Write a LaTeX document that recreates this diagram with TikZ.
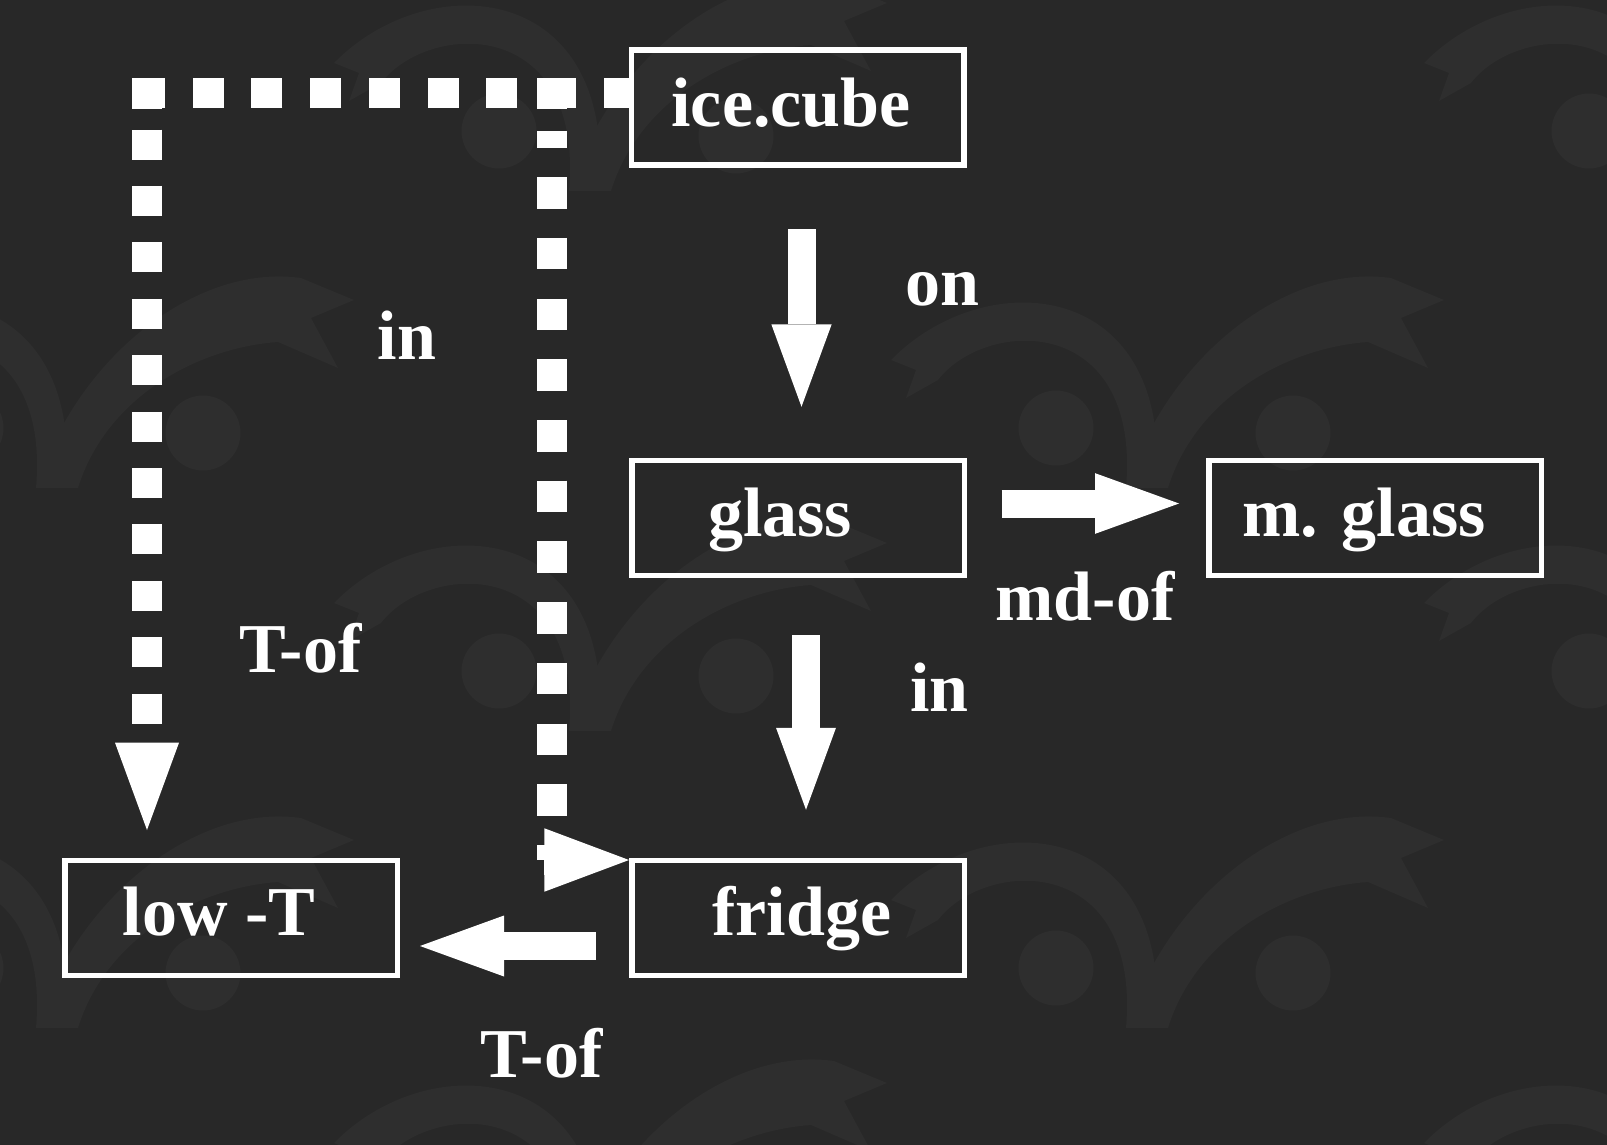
\documentclass[tikz,border=0pt]{standalone}
\usepackage{fontspec}
\setmainfont{Liberation Serif}
\usetikzlibrary{arrows.meta}
\definecolor{bgc}{HTML}{282828}
\definecolor{motc}{HTML}{2E2E2E}
\newcommand\bgmotif[2]{%
  \begin{scope}[shift={(#1,#2)}]
    \fill[motc] (0,0) circle[radius=37.5pt];
    \fill[motc] (237,5) circle[radius=37.5pt];
    \fill[motc] (100,60) .. controls (118,-150) and (-70,-165) .. (-165,-68)
      -- (-140,-58) -- (-150,-30) -- (-118,-48)
      .. controls (-70,-110) and (85,-115) .. (70,60) -- cycle;
    \fill[motc] (70,60) .. controls (110,-70) and (230,-165) .. (335,-150)
      -- (388,-128) -- (345,-110) -- (372,-60) -- (312,-86)
      .. controls (230,-80) and (140,-30) .. (112,60) -- cycle;
  \end{scope}}
\begin{document}
\begin{tikzpicture}[x=1pt,y=-1pt,
  box/.style={draw=white, line width=5.5pt, minimum width=332.5pt, minimum height=115pt, inner sep=0pt},
  txt/.style={text=white, font=\fontsize{70}{84}\selectfont\bfseries, inner sep=0pt, anchor=base},
  blk/.style={draw=white, line width=28pt},
  dotl/.style={draw=white, line width=30pt},
]
\useasboundingbox (0,0) rectangle (1607,1145);
\fill[bgc] (0,0) rectangle (1607,1145);
% background pattern
\bgmotif{499}{131}
\bgmotif{1589}{131}
\bgmotif{499}{671}
\bgmotif{1589}{671}
\bgmotif{499}{1211}
\bgmotif{1589}{1211}
\bgmotif{-34}{428}
\bgmotif{1056}{428}
\bgmotif{-34}{968}
\bgmotif{1056}{968}

% boxes
\node[box] (ice) at (797.5,107.5) {};
\node[box] (glass) at (798,518) {};
\node[box] (mglass) at (1375,518) {};
\node[box] (fridge) at (798,918) {};
\node[box] (lowT) at (231,918) {};

% helper coordinates
\coordinate (hA) at (0,93.5);
\coordinate (vA) at (147,0);
\coordinate (vB) at (551.5,0);
\coordinate (hB) at (0,860);
\coordinate (a1) at (801.5,0);
\coordinate (a2) at (0,503.5);
\coordinate (a3) at (806,0);
\coordinate (a4) at (0,946);

% dotted connectors
\draw[dotl, dash pattern=on 25pt off 27.6pt on 31pt off 27.7pt on 31pt off 27.7pt on 31pt off 27.7pt on 31pt off 27.7pt on 31pt off 27.7pt on 31pt off 27.7pt on 31pt off 27.7pt on 34pt off 20.1pt on 30pt off 26.4pt on 30pt off 26.4pt on 30pt off 26.4pt on 30pt off 26.4pt on 30pt off 26.4pt on 30pt off 26.4pt on 30pt off 26.4pt on 30pt off 26.4pt on 30pt off 26.4pt on 30pt off 26.4pt on 30pt off 500pt,
  shorten >=27.75pt, -{Triangle[length=87.3pt,width=64pt,line width=0pt]}]
  (ice.west |- hA) -| (vA |- lowT.north);
\draw[dotl, dash pattern=on 25pt off 27.6pt on 40pt off 21.8pt on 17pt off 29.3pt on 31.5pt off 29.2pt on 31.5pt off 29.2pt on 31.5pt off 29.2pt on 31.5pt off 29.2pt on 31.5pt off 29.2pt on 31.5pt off 29.2pt on 31.5pt off 29.2pt on 31.5pt off 29.2pt on 31.5pt off 29.2pt on 31.5pt off 29.2pt on 31.5pt off 29.2pt on 40pt off 500pt,
  -{Triangle[length=84.6pt,width=63.4pt,line width=0pt]}]
  (ice.west |- hA) -| (vB |- hB) -- (fridge.west |- hB);

% block arrows
\draw[blk, shorten <=61.7pt, shorten >=51pt, -{Triangle[length=82.4pt,width=60.3pt,line width=0pt]}]
  (ice.south -| a1) -- (glass.north -| a1);
\draw[blk, shorten <=34.7pt, shorten >=27pt, -{Triangle[length=84pt,width=60.7pt,line width=0pt]}]
  (glass.east |- a2) -- (mglass.west |- a2);
\draw[blk, shorten <=56.75pt, shorten >=48pt, -{Triangle[length=82pt,width=60pt,line width=0pt]}]
  (glass.south -| a3) -- (fridge.north -| a3);
\draw[blk, shorten <=33pt, shorten >=20pt, -{Triangle[length=84pt,width=61pt,line width=0pt]}]
  (fridge.west |- a4) -- (lowT.east |- a4);

% node texts
\node[txt] (t-ice) at (791,127) {ice.cube};
\node[txt] (t-glass) at (780,536) {glass};
\node[txt] (t-mglass) at (1364,536.5) {m. glass};
\node[txt] (t-fridge) at (802,935) {fridge};
\node[txt] (t-lowT) at (219,935) {low -T};
% edge labels
\node[txt] (l-on) at (942,305) {on};
\node[txt] (l-in2) at (939.5,711) {in};
\node[txt] (l-md) at (1085,620) {md-of};
\node[txt] (l-in1) at (407,359) {in};
\node[txt] (l-tof1) at (300.5,672) {T-of};
\node[txt] (l-tof2) at (541.5,1077) {T-of};
\end{tikzpicture}
\end{document}
